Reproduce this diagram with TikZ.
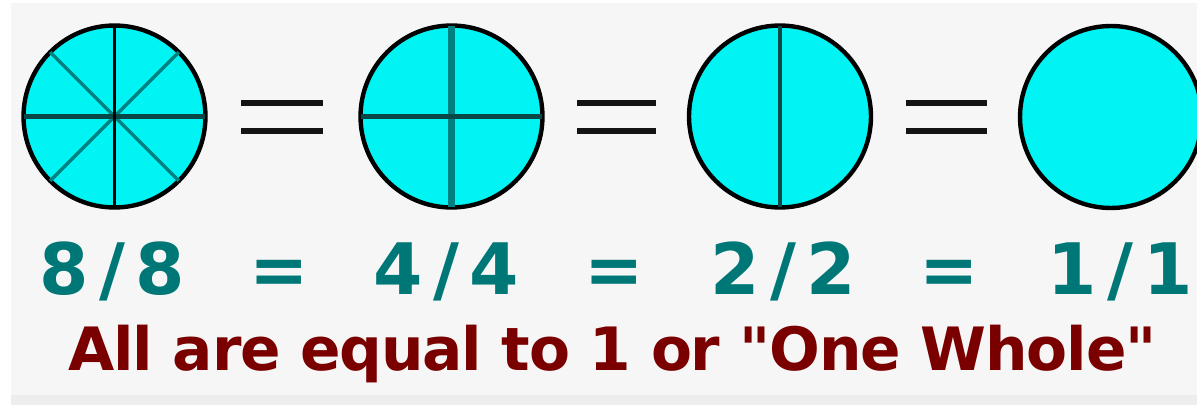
\documentclass[tikz,border=0pt]{standalone}
\usepackage{fontspec}
\usepackage{tikz}
\usetikzlibrary{calc}
\newfontfamily\fracfont{DejaVu Sans}[LetterSpace=15]
\newfontfamily\notefont{DejaVu Sans}[LetterSpace=-2]
\definecolor{wedge}{HTML}{00F4F4}
\definecolor{fractext}{HTML}{007777}
\definecolor{notetext}{HTML}{7A0000}
\definecolor{panel}{HTML}{F6F6F6}
\definecolor{strip}{HTML}{EDEDED}
\definecolor{darkteal}{HTML}{0A4848}
\definecolor{midteal}{HTML}{008080}

\begin{document}
\begin{tikzpicture}[x=0.02cm,y=-0.02cm,
    disc/.style={circle,draw=black,fill=wedge,line width=2.5pt,minimum size=3.64cm,inner sep=0pt,outer sep=0pt},
    cut/.style={line width=#1},
    eqbar/.style={line width=3.4pt,color=black!92},
    frac/.style={anchor=base,inner sep=0pt,text=fractext,font=\fracfont\bfseries\fontsize{40.4}{48}\selectfont},
    note/.style={anchor=base,inner sep=0pt,text=notetext,font=\notefont\bfseries\fontsize{34}{40}\selectfont}]
      \useasboundingbox (0,0) rectangle (1197,405);
      % background panel
      \fill[panel] (11,3) rectangle (1197,395);
      \fill[strip] (11,395) rectangle (1197,405);
      % the four circles
      \node[disc] (c8) at (114.5,116.5) {};
      \node[disc] (c4) at (451.5,116.5) {};
      \node[disc] (c2) at (780,116.5) {};
      \node[disc] (c1) at (1111,117) {};
      % eighths
      \draw[cut=1.9pt,midteal] (c8.45) -- (c8.225);
      \draw[cut=1.9pt,midteal] (c8.135) -- (c8.315);
      \draw[cut=2.6pt,darkteal] (c8.west) -- (c8.east);
      \draw[cut=2.2pt,black] (c8.north) -- (c8.south);
      % quarters
      \draw[cut=3.6pt,midteal] (c4.north) -- (c4.south);
      \draw[cut=2.6pt,darkteal] (c4.west) -- (c4.east);
      % halves
      \draw[cut=2.3pt,darkteal] (c2.north) -- (c2.south);
      % equal signs between circles
      \foreach \xa/\xb in {241/323, 577/656, 906/987} {
        \draw[eqbar] (\xa,103) -- (\xb,103);
        \draw[eqbar] (\xa,131) -- (\xb,131);
      }
      % fractions
      \node[frac] (f8) at (112,295) {8/8};
      \node[frac] (e1) at (279.5,295) {=};
      \node[frac] (f4) at (446,295) {4/4};
      \node[frac] (e2) at (614,295) {=};
      \node[frac] (f2) at (783,295) {2/2};
      \node[frac] (e3) at (949.5,295) {=};
      \node[frac] (f1) at (1120,295) {1/1};
      % caption
      \node[note] (all) at (612.5,370) {All are equal to 1 or "One Whole"};
    \end{tikzpicture}
\end{document}
